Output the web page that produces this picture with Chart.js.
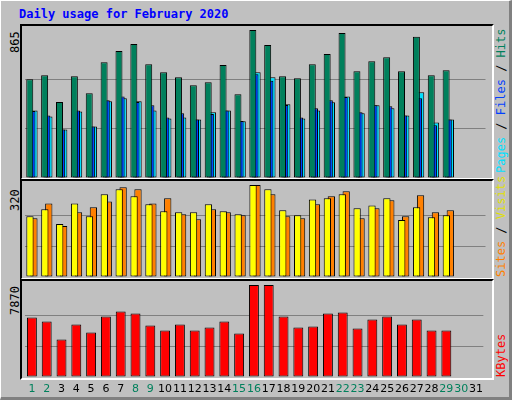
<!DOCTYPE html>
<html>
<head>
<meta charset="utf-8">
<script src="https://cdn.jsdelivr.net/npm/chart.js@4"></script>
<style>
  body { margin: 0; }
  #page { position: relative; width: 508px; height: 396px; background: #c0c0c0;
    border-top: 1px solid #fff; border-left: 1px solid #fff;
    border-right: 3px solid #808080; border-bottom: 3px solid #808080; font-family: "DejaVu Sans Mono", monospace; }
  .frame { position: absolute; left: 19px; width: 470px; border-top: 2px solid #000; border-left: 2px solid #000;
    border-right: 2px solid #fff; border-bottom: 2px solid #fff; }
  canvas { position: absolute; }
  .rot { position: absolute; transform: rotate(-90deg); transform-origin: left top; white-space: nowrap; font-size: 12px; }
  #title { position: absolute; left: 18px; top: 6px; color: #0000ff; font-weight: bold; font-size: 12px; }
</style>
</head>
<body>
<div id="page">
  <div id="title">Daily usage for February 2020</div>
  <div class="frame" style="top:23px;height:152px"></div>
  <div class="frame" style="top:178px;height:97px"></div>
  <div class="frame" style="top:278px;height:97px"></div>
  <div class="rot" style="left:7px;top:52px">865</div>
  <div class="rot" style="left:7px;top:210px">320</div>
  <div class="rot" style="left:7px;top:314px">7870</div>
  <div class="rot" style="left:493px;top:172px"><span style="color:#00e0ff">Pages</span> / <span style="color:#0040ff">Files</span> / <span style="color:#00805c">Hits</span></div>
  <div class="rot" style="left:493px;top:276px"><span style="color:#ff8000">Sites</span> / <span style="color:#e0e000">Visits</span></div>
  <div class="rot" style="left:493px;top:376px;color:#ff0000">KBytes</div>
  <canvas id="c1" style="left:20px;top:25px"></canvas>
  <canvas id="c2" style="left:20px;top:180px"></canvas>
  <canvas id="c3" style="left:20px;top:280px"></canvas>
</div>
<script>
const days = Array.from({length: 31}, (_, i) => String(i + 1));
const weekend = [1, 2, 8, 9, 15, 16, 22, 23, 29, 30];
const hits = [577,601,444,595,495,677,742,783,665,618,589,542,560,660,489,865,777,595,583,665,724,847,624,683,706,624,826,601,630,0,0];
const files = [391,366,284,395,301,454,477,444,425,354,378,342,374,395,333,607,568,427,354,407,454,474,384,425,419,366,466,309,342,0,0];
const pages = [395,360,284,389,301,448,466,448,395,348,354,342,384,395,331,618,589,431,348,395,442,477,378,425,407,366,501,325,342,0,0];
const sites = [211,236,184,256,211,288,305,281,253,229,225,225,253,229,218,320,305,232,215,270,274,288,239,249,274,198,243,208,215,0,0];
const visits = [204,256,177,225,243,263,312,305,256,274,218,201,236,225,215,320,288,211,204,253,281,298,204,239,267,211,284,225,232,0,0];
const kbytes = [5094,4750,3205,4493,3806,5180,5609,5437,4407,3978,4493,3978,4235,4750,3720,7870,7870,5180,4235,4321,5437,5523,4149,4922,5180,4493,4922,3978,3978,0,0];

function makeChart(id, w, h, max, datasets, catPct, barPct, showX) {
  const cv = document.getElementById(id);
  cv.width = w; cv.height = h;
  return new Chart(cv.getContext("2d"), {
    type: "bar",
    data: { labels: days, datasets: datasets.map(d => ({
      data: d[0], backgroundColor: d[1], borderColor: "#000", borderWidth: 1,
      categoryPercentage: catPct, barPercentage: barPct, borderSkipped: false })) },
    options: {
      responsive: false, animation: false, events: [],
      layout: { padding: { left: 3.5, right: 3.5, top: 4, bottom: 0 } },
      plugins: { legend: { display: false }, tooltip: { enabled: false } },
      scales: {
        x: { display: showX, grid: { display: false, drawTicks: false }, border: { display: false },
          afterFit: s => { s.height = showX ? 20 : 0; },
          ticks: { padding: 6, autoSkip: false, maxRotation: 0, font: { family: "DejaVu Sans", size: 11 },
            color: c => weekend.includes(c.index + 1) ? "#00805c" : "#000" } },
        y: { min: 0, max: max, display: true, border: { display: false },
          afterFit: s => { s.width = 0; },
          grid: { color: c => (c.tick.value > 0 && c.tick.value < max) ? "#808080" : "rgba(0,0,0,0)", lineWidth: 1, drawTicks: false },
          ticks: { display: false, stepSize: max / 3 } }
      }
    }
  });
}

makeChart("c1", 468, 152, 865, [[hits, "#00805c"], [files, "#0040ff"], [pages, "#00e0ff"]], 0.44, 3.2, false);
makeChart("c2", 468, 96, 320, [[sites, "#ffff00"], [visits, "#ff8000"]], 0.53, 1.85, false);
makeChart("c3", 468, 116, 7870, [[kbytes, "#ff0000"]], 0.67, 1, true);
</script>
</body>
</html>
